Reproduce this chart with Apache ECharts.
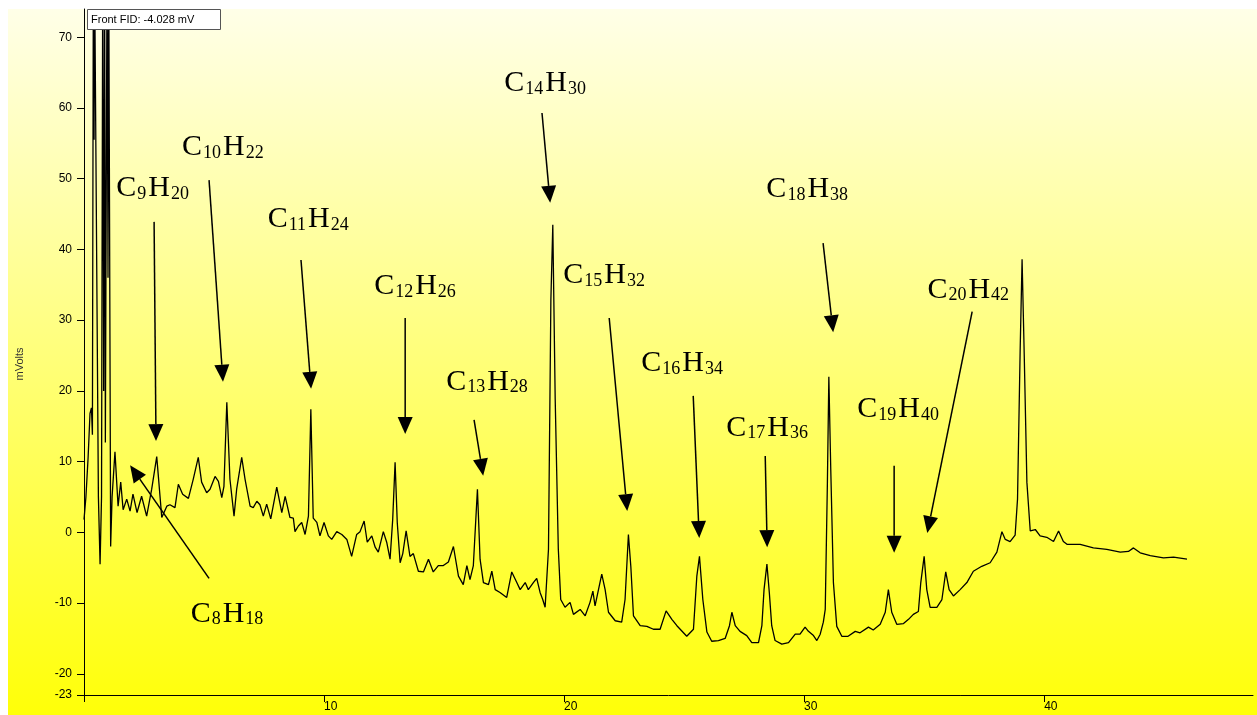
<!DOCTYPE html>
<html>
<head>
<meta charset="utf-8">
<script src="https://cdn.jsdelivr.net/npm/echarts@6/dist/echarts.min.js"></script>
<style>
  html, body { margin: 0; padding: 0; background: #ffffff; }
  #chart { width: 1257px; height: 715px; }
</style>
</head>
<body>
<div id="chart"></div>
<script>
// ---- Data (retention time in minutes, signal in mV) ----
const retentionTime = [
  0.00, 0.08, 0.17, 0.25, 0.31, 0.35, 0.39, 0.42, 0.44, 0.52, 0.60, 0.67, 0.73, 0.78, 0.82, 0.86, 0.89, 0.96, 1.00, 1.03,
  1.07, 1.11, 1.17, 1.29, 1.42, 1.53, 1.63, 1.78, 1.92, 2.04, 2.21, 2.40, 2.61, 2.82, 3.03, 3.24, 3.45, 3.58, 3.79, 3.93,
  4.11, 4.35, 4.55, 4.76, 4.90, 5.11, 5.25, 5.46, 5.60, 5.74, 5.83, 5.95, 6.08, 6.25, 6.36, 6.57, 6.71, 6.92, 7.05, 7.20,
  7.33, 7.47, 7.61, 7.78, 8.03, 8.24, 8.38, 8.58, 8.72, 8.79, 8.93, 9.07, 9.21, 9.35, 9.45, 9.55, 9.70, 9.83, 10.00, 10.18,
  10.32, 10.53, 10.74, 10.95, 11.15, 11.36, 11.50, 11.67, 11.80, 11.99, 12.13, 12.26, 12.47, 12.61, 12.75, 12.86, 12.96, 13.05, 13.17, 13.28,
  13.42, 13.58, 13.72, 13.93, 14.14, 14.35, 14.55, 14.76, 14.97, 15.18, 15.39, 15.60, 15.80, 15.95, 16.08, 16.22, 16.39, 16.50, 16.64, 16.85,
  16.99, 17.13, 17.33, 17.61, 17.82, 18.03, 18.17, 18.38, 18.51, 18.72, 18.86, 19.00, 19.11, 19.21, 19.35, 19.45, 19.53, 19.63, 19.76, 19.86,
  20.04, 20.25, 20.39, 20.67, 20.88, 21.08, 21.20, 21.29, 21.57, 21.71, 21.85, 22.13, 22.40, 22.54, 22.68, 22.78, 22.89, 23.17, 23.45, 23.72,
  24.00, 24.25, 24.49, 24.70, 25.11, 25.39, 25.53, 25.64, 25.78, 25.95, 26.15, 26.43, 26.71, 26.89, 26.99, 27.13, 27.33, 27.61, 27.82, 28.10,
  28.24, 28.33, 28.45, 28.55, 28.65, 28.79, 29.07, 29.35, 29.63, 29.83, 30.04, 30.18, 30.39, 30.53, 30.67, 30.80, 30.88, 30.97, 31.03, 31.11,
  31.22, 31.36, 31.57, 31.83, 32.13, 32.33, 32.68, 32.88, 33.17, 33.38, 33.51, 33.65, 33.86, 34.14, 34.35, 34.55, 34.76, 34.86, 35.00, 35.11,
  35.25, 35.53, 35.74, 35.90, 36.04, 36.22, 36.50, 36.78, 37.05, 37.40, 37.75, 38.03, 38.24, 38.38, 38.58, 38.79, 38.89, 39.00, 39.08, 39.17,
  39.28, 39.42, 39.63, 39.83, 40.11, 40.39, 40.60, 40.80, 40.95, 41.50, 42.05, 42.61, 43.17, 43.51, 43.72, 44.00, 44.42, 44.97, 45.39, 45.95
];
const signalMv = [
  1.8, 5.0, 10.5, 16.8, 17.6, 13.8, 80, 55.5, 80, 80, 5.0, -4.5, 5.0, 80, 20, 80, 12.7, 80, 36, 80,
  80, -2.0, 5.0, 11.4, 3.7, 7.1, 3.2, 4.7, 3.0, 5.4, 2.8, 5.1, 2.3, 6.1, 10.7, 2.1, 3.7, 3.9, 3.5, 6.8,
  5.4, 4.8, 7.5, 10.6, 7.1, 5.6, 6.1, 7.9, 7.2, 4.9, 6.5, 18.4, 7.5, 2.3, 6.1, 10.6, 7.5, 3.7, 3.5, 4.4,
  3.9, 2.3, 4.0, 1.9, 6.4, 2.8, 5.1, 2.1, 2.0, 0.1, 0.9, 1.4, -0.3, 2.3, 17.4, 2.0, 1.4, -0.5, 1.4, -0.5,
  -1.0, 0.1, -0.3, -1.0, -3.4, -0.3, 0.1, 1.6, -1.4, -0.5, -2.1, -2.8, 0.1, -1.4, -3.8, 1.8, 9.9, 1.4, -4.3, -3.0,
  0.2, -3.4, -3.0, -5.5, -5.6, -3.8, -5.6, -4.7, -4.7, -4.2, -2.0, -6.2, -7.4, -4.7, -6.7, -4.7, 6.1, -3.8, -7.1, -7.4,
  -5.5, -8.1, -8.5, -9.2, -5.6, -7.1, -8.1, -7.1, -8.1, -7.1, -6.5, -8.5, -9.5, -10.6, -2.4, 32.9, 43.5, 18.8, -2.4, -9.5,
  -10.6, -9.9, -11.6, -10.9, -11.8, -9.9, -8.3, -10.4, -5.9, -8.1, -11.3, -12.5, -12.7, -9.5, -0.3, -4.8, -11.8, -13.2, -13.3, -13.7,
  -13.7, -11.1, -12.3, -13.2, -14.7, -13.7, -6.2, -3.4, -9.5, -14.1, -15.4, -15.3, -15.0, -13.2, -11.3, -13.2, -14.0, -14.6, -15.6, -15.6,
  -13.2, -8.1, -4.5, -8.5, -13.2, -15.3, -15.8, -15.6, -14.4, -14.4, -13.4, -14.0, -14.6, -15.3, -14.4, -12.7, -10.9, 7.1, 22.0, 8.9,
  -7.1, -13.3, -14.7, -14.7, -14.0, -14.2, -13.4, -13.8, -13.0, -11.3, -8.1, -11.3, -13.0, -12.9, -12.3, -11.6, -11.2, -7.1, -3.4, -8.1,
  -10.6, -10.6, -9.5, -5.6, -8.1, -9.0, -8.1, -7.1, -5.5, -4.8, -4.3, -2.8, 0.1, -1.0, -1.3, -0.4, 4.7, 25.8, 38.6, 25.0,
  7.1, 0.2, 0.4, -0.5, -0.7, -1.3, 0.2, -1.3, -1.7, -1.7, -2.2, -2.4, -2.8, -2.7, -2.2, -2.9, -3.3, -3.6, -3.5, -3.8
];

// Axis ticks / labels
const xTickValues = [0, 10, 20, 30, 40];
const xLabelValues = [10, 20, 30, 40];
const yTickValues = [-23, -20, -10, 0, 10, 20, 30, 40, 50, 60, 70];

// Peak annotations: formula, label centre (min, mV), arrow start (min, mV), arrow tip (min, mV)
const formulas  = ['C8H18', 'C9H20', 'C10H22', 'C11H24', 'C12H26', 'C13H28', 'C14H30', 'C15H32', 'C16H34', 'C17H36', 'C18H38', 'C19H40', 'C20H42'];
const labelX    = [6.00, 2.90, 5.83, 9.38, 13.83, 16.83, 19.25, 21.71, 24.96, 28.50, 30.17, 33.96, 36.88];
const labelY    = [-11.5, 48.7, 54.5, 44.3, 34.8, 21.3, 63.5, 36.4, 23.9, 14.8, 48.5, 17.4, 34.3];
const arrowFromX = [5.21, 2.92, 5.21, 9.04, 13.38, 16.25, 19.08, 21.88, 25.38, 28.38, 30.79, 33.75, 37.00];
const arrowFromY = [-6.5, 43.9, 49.8, 38.5, 30.3, 15.9, 59.3, 30.3, 19.3, 10.8, 40.9, 9.4, 31.2];
const arrowToX   = [1.92, 3.00, 5.79, 9.46, 13.38, 16.63, 19.42, 22.63, 25.63, 28.46, 31.21, 33.75, 35.13];
const arrowToY   = [9.5, 12.9, 21.3, 20.3, 13.9, 8.0, 46.6, 3.0, -0.8, -2.1, 28.3, -2.9, -0.1];

const infoText = 'Front FID: -4.028 mV';
const yAxisTitle = 'mVolts';

// ---- Build ----
const seriesData = retentionTime.map((t, i) => [t, signalMv[i]]);
function toRich(f) {
  return f.replace(/([A-Z]+)|(\d+)/g, (m, a, d) => a ? '{m|' + a + '}' : '{s|' + d + '}');
}
const markPoints = formulas.map((f, i) => ({ name: f, coord: [labelX[i], labelY[i]] }));
const arrowData = formulas.map((f, i) => [arrowFromX[i], arrowFromY[i], arrowToX[i], arrowToY[i]]);

function renderArrow(params, api) {
  const p1 = api.coord([api.value(0), api.value(1)]);
  const p2 = api.coord([api.value(2), api.value(3)]);
  const dx = p2[0] - p1[0], dy = p2[1] - p1[1];
  const len = Math.sqrt(dx * dx + dy * dy) || 1;
  const ux = dx / len, uy = dy / len;
  const headLen = 17, halfW = 7.5;
  const bx = p2[0] - ux * headLen, by = p2[1] - uy * headLen;
  const nx = -uy, ny = ux;
  return {
    type: 'group',
    children: [
      { type: 'line', shape: { x1: p1[0], y1: p1[1], x2: bx, y2: by },
        style: { stroke: '#000', lineWidth: 1.5 } },
      { type: 'polygon', shape: { points: [[p2[0], p2[1]], [bx + nx * halfW, by + ny * halfW], [bx - nx * halfW, by - ny * halfW]] },
        style: { fill: '#000' } }
    ]
  };
}

const chart = echarts.init(document.getElementById('chart'), null, { renderer: 'canvas' });
const sansFont = 'Liberation Sans';
chart.setOption({
  animation: false,
  backgroundColor: '#ffffff',
  graphic: [
    {
      type: 'rect', z: -100, silent: true,
      shape: { x: 8, y: 9, width: 1249, height: 706 },
      style: {
        fill: new echarts.graphic.LinearGradient(0, 0, 0, 1, [
          { offset: 0, color: '#FFFFE8' },
          { offset: 1, color: '#FFFF08' }
        ])
      }
    },
    // white strip above the plot so off-scale solvent spikes do not show above the panel
    { type: 'rect', z: 99, zlevel: 1, silent: true,
      shape: { x: 86, y: 0, width: 136, height: 9.5 },
      style: { fill: '#ffffff' } },
    { type: 'rect', z: 100, zlevel: 1, silent: true,
      shape: { x: 87.5, y: 9.5, width: 133, height: 20 },
      style: { fill: '#ffffff', stroke: '#555555', lineWidth: 1 } },
    { type: 'text', z: 101, zlevel: 1, silent: true, x: 91, y: 19.5,
      style: { text: infoText, fill: '#000', font: '11px "Liberation Sans"', verticalAlign: 'middle' } },
    { type: 'text', z: 10, silent: true, x: 20, y: 364, rotation: Math.PI / 2,
      style: { text: yAxisTitle, fill: '#333', font: '11px "Liberation Sans"', align: 'center', verticalAlign: 'middle' } }
  ],
  grid: { left: 84, right: 4, top: 9, bottom: 20, containLabel: false, outerBoundsMode: 'none' },
  xAxis: {
    type: 'value', min: 0, max: 48.7,
    axisLine: { show: true, onZero: false, lineStyle: { color: '#000', width: 1 } },
    axisTick: { show: true, length: 7, customValues: xTickValues, lineStyle: { color: '#000' } },
    axisLabel: { customValues: xLabelValues, align: 'left', margin: 6, color: '#000', fontSize: 12, fontFamily: sansFont },
    splitLine: { show: false }
  },
  yAxis: {
    type: 'value', min: -23, max: 74,
    axisLine: { show: true, onZero: false, lineStyle: { color: '#000', width: 1 } },
    axisTick: { show: true, length: 7, customValues: yTickValues, lineStyle: { color: '#000' } },
    axisLabel: { customValues: yTickValues, margin: 12, color: '#000', fontSize: 12, fontFamily: sansFont },
    splitLine: { show: false }
  },
  series: [{
    type: 'line',
    data: seriesData,
    showSymbol: false,
    symbol: 'none',
    clip: true,
    lineStyle: { color: '#000', width: 1.3 },
    markPoint: {
      silent: true,
      symbol: 'rect',
      symbolSize: 1,
      itemStyle: { color: 'rgba(0,0,0,0)' },
      label: {
        show: true,
        position: 'inside',
        formatter: p => toRich(p.name),
        rich: {
          m: { fontFamily: 'Liberation Serif', fontSize: 30, color: '#000', lineHeight: 30, verticalAlign: 'middle' },
          s: { fontFamily: 'Liberation Serif', fontSize: 18, color: '#000', lineHeight: 20, verticalAlign: 'bottom', padding: [0, 2, 0, 1] }
        }
      },
      data: markPoints
    }
  }, {
    type: 'custom',
    silent: true,
    clip: false,
    renderItem: renderArrow,
    encode: { x: [0, 2], y: [1, 3] },
    data: arrowData,
    z: 5
  }]
});
</script>
</body>
</html>
